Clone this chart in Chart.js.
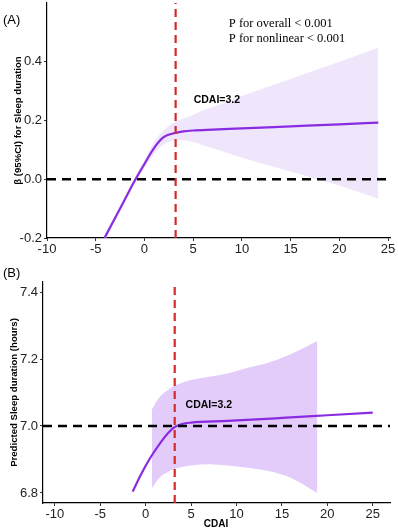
<!DOCTYPE html>
<html><head><meta charset="utf-8">
<script src="https://cdn.jsdelivr.net/npm/chart.js@4/dist/chart.umd.min.js"></script>
<style>
html,body{margin:0;padding:0;background:#fff;width:398px;height:531px;overflow:hidden}
canvas{position:absolute;left:0}
</style></head><body>
<canvas id="a" width="398" height="260" style="top:0px"></canvas>
<canvas id="b" width="398" height="271" style="top:260px"></canvas>
<script>
// ---- shared ----
const xTicks = [-10, -5, 0, 5, 10, 15, 20, 25];
const cutoff = 3.2;
const cutoffLabel = "CDAI=3.2";

// ---- panel A ----
const xRangeA = [-10, 25.2];
const yRangeA = [-0.2, 0.6];
const yTicksA = [-0.2, 0.0, 0.2, 0.4];
const refYA = 0.0;
const lineAX = [-4.1, -3, -2, -1, 0, 1, 2, 3.2, 4, 5, 7, 10, 15, 20, 24];
const lineAY = [-0.2, -0.131, -0.068, -0.005, 0.052, 0.107, 0.144, 0.158, 0.163, 0.166, 0.169, 0.173, 0.180, 0.187, 0.193];
const bandAX = [-4.1, -3, -2, -1, 0, 1, 2, 3.2, 4, 5, 6, 8, 10, 12, 15, 18, 20, 22, 24];
const bandALow = [-0.212, -0.14, -0.076, -0.014, 0.038, 0.086, 0.118, 0.133, 0.133, 0.127, 0.116, 0.095, 0.073, 0.054, 0.026, -0.003, -0.021, -0.043, -0.066];
const bandAHigh = [-0.188, -0.122, -0.06, 0.006, 0.066, 0.128, 0.168, 0.196, 0.207, 0.22, 0.234, 0.258, 0.283, 0.307, 0.341, 0.377, 0.40, 0.424, 0.448];

// ---- panel B ----
const xRangeB = [-11.3, 26.9];
const yRangeB = [6.77, 7.43];
const yTicksB = [6.8, 7.0, 7.2, 7.4];
const refYB = 7.0;
const lineBX = [-1.43, -0.5, 0.58, 1.68, 2.5, 3.2, 4, 5, 9, 15, 20, 25];
const lineBY = [6.804, 6.856, 6.908, 6.952, 6.980, 6.997, 7.006, 7.010, 7.015, 7.024, 7.032, 7.04];
const bandBX = [0.7, 1.5, 2.5, 3.2, 5, 7, 9, 11, 13.4, 16, 18.9];
const bandBLow = [6.815, 6.845, 6.863, 6.872, 6.882, 6.886, 6.882, 6.876, 6.866, 6.845, 6.80];
const bandBHigh = [7.05, 7.085, 7.108, 7.12, 7.137, 7.147, 7.157, 7.172, 7.188, 7.215, 7.254];

Chart.defaults.font.family = "'Liberation Sans', Arial, sans-serif";
const SANS = "'Liberation Sans', Arial, sans-serif";
const SERIF = "'Liberation Serif', 'Times New Roman', serif";

function pts(xs, ys) { return xs.map((x, i) => ({ x: x, y: ys[i] })); }

function notesPlugin(items) {
  return {
    id: 'notes',
    afterDraw(chart) {
      const ctx = chart.ctx, xs = chart.scales.x, ys = chart.scales.y;
      items.forEach(it => {
        ctx.save();
        ctx.font = it.font;
        ctx.fillStyle = it.color || '#000';
        ctx.textAlign = it.align || 'left';
        ctx.textBaseline = 'middle';
        const px = it.px != null ? it.px : xs.getPixelForValue(it.x);
        const py = it.py != null ? it.py : ys.getPixelForValue(it.y);
        ctx.fillText(it.text, px, py);
        ctx.restore();
      });
    }
  };
}

function makeChart(id, p) {
  const datasets = [
    { data: pts(p.bandX, p.low), borderWidth: 0, pointRadius: 0, fill: false, cubicInterpolationMode: 'monotone', order: 5 },
    { data: pts(p.bandX, p.high), borderWidth: 0, pointRadius: 0, fill: 0, backgroundColor: p.bandColor, cubicInterpolationMode: 'monotone', order: 4 },
    { data: pts(p.lineX, p.lineY), borderColor: '#8A2BE2', borderWidth: 2.2, pointRadius: 0, fill: false, cubicInterpolationMode: 'monotone', order: 2 },
    { data: [{ x: p.xRange[0], y: p.refY }, { x: p.xRange[1], y: p.refY }], borderColor: '#000', borderWidth: 2.4, borderDash: [9, 6], pointRadius: 0, fill: false, order: 1 },
    { data: [{ x: cutoff, y: p.yRange[0] }, { x: cutoff, y: p.yRange[1] }], borderColor: '#D42A2A', borderWidth: 2.2, borderDash: [8, 5], pointRadius: 0, fill: false, order: 0 }
  ];
  return new Chart(document.getElementById(id), {
    type: 'line',
    data: { datasets: datasets },
    options: {
      responsive: false, animation: false, devicePixelRatio: 1,
      layout: { padding: { left: 0, right: 8, top: p.top, bottom: 0 } },
      plugins: { legend: { display: false }, tooltip: { enabled: false }, filler: { drawTime: 'beforeDatasetsDraw' } },
      scales: {
        x: {
          type: 'linear', min: p.xRange[0], max: p.xRange[1],
          afterBuildTicks: s => { s.ticks = xTicks.map(v => ({ value: v })); },
          afterFit: s => { s.height = p.xAxisH; s.paddingLeft = 0; s.paddingRight = 0; },
          ticks: { color: '#222', font: { size: 13 }, padding: 1, maxRotation: 0, autoSkip: false, callback: v => String(v) },
          grid: { drawOnChartArea: false, drawTicks: true, tickLength: 3, color: '#333' },
          border: { display: true, color: '#000', width: 1.2 },
          title: { display: false }
        },
        y: {
          type: 'linear', min: p.yRange[0], max: p.yRange[1],
          afterBuildTicks: s => { s.ticks = p.yTicks.map(v => ({ value: v })); },
          afterFit: s => { s.width = p.yAxisW; s.paddingTop = 0; s.paddingBottom = 0; },
          ticks: { color: '#222', font: { size: 13 }, padding: 2, autoSkip: false, callback: v => Number(v).toFixed(1) },
          grid: { drawOnChartArea: false, drawTicks: true, tickLength: 3, color: '#333' },
          border: { display: true, color: '#000', width: 1.2 },
          title: { display: true, text: p.yTitle, font: { size: 9.6, weight: 'bold' }, color: '#000', padding: { top: p.yTitlePad, bottom: 0 } }
        }
      }
    },
    plugins: [notesPlugin(p.notes)]
  });
}

makeChart('a', {
  xRange: xRangeA, yRange: yRangeA, yTicks: yTicksA, refY: refYA,
  lineX: lineAX, lineY: lineAY, bandX: bandAX, low: bandALow, high: bandAHigh,
  bandColor: '#F0E6FC', top: 3, xAxisH: 22, yAxisW: 47, yTitlePad: 13,
  yTitle: 'β (95%CI) for Sleep duration',
  notes: [
    { text: '(A)', font: '13px ' + SANS, px: 3, py: 20 },
    { text: cutoffLabel, font: 'bold 10.5px ' + SANS, x: 5.05, y: 0.269 },
    { text: 'P for overall < 0.001', font: '12.5px ' + SERIF, x: 8.66, y: 0.531 },
    { text: 'P for nonlinear < 0.001', font: '12.5px ' + SERIF, x: 8.66, y: 0.479 }
  ]
});

makeChart('b', {
  xRange: xRangeB, yRange: yRangeB, yTicks: yTicksB, refY: refYB,
  lineX: lineBX, lineY: lineBY, bandX: bandBX, low: bandBLow, high: bandBHigh,
  bandColor: '#E3CCF9', top: 22, xAxisH: 28, yAxisW: 43, yTitlePad: 9,
  yTitle: 'Predicted Sleep duration (hours)',
  notes: [
    { text: '(B)', font: '13px ' + SANS, px: 3, py: 13 },
    { text: cutoffLabel, font: 'bold 10.5px ' + SANS, x: 4.4, y: 7.063 },
    { text: 'CDAI', font: 'bold 10px ' + SANS, px: 216, py: 264, align: 'center' }
  ]
});
</script>
</body></html>
